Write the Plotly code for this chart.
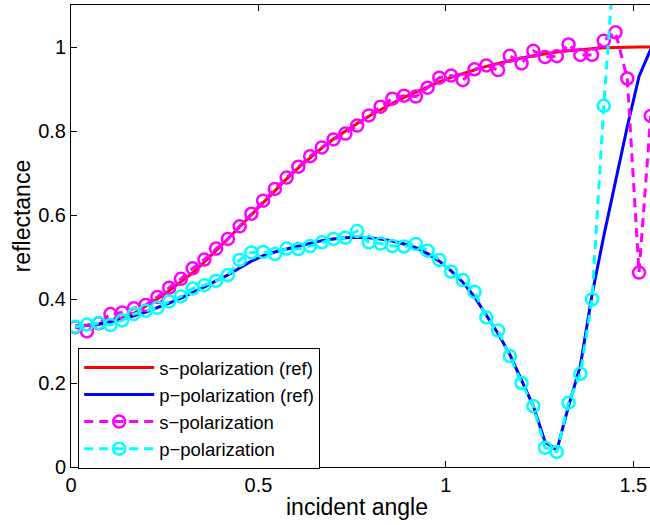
import plotly.graph_objects as go

# incident angle samples (rad)
angle = [0.0112, 0.0425, 0.0739, 0.1052, 0.1365, 0.1679, 0.1992, 0.2305, 0.2619, 0.2932,
         0.3245, 0.3559, 0.3872, 0.4185, 0.4499, 0.4812, 0.5125, 0.5439, 0.5752, 0.6065,
         0.6379, 0.6692, 0.7005, 0.7319, 0.7632, 0.7945, 0.8259, 0.8572, 0.8885, 0.9199,
         0.9512, 0.9825, 1.0139, 1.0452, 1.0765, 1.1079, 1.1392, 1.1705, 1.2019, 1.2332,
         1.2645, 1.2959, 1.3272, 1.3585, 1.3899, 1.4212, 1.4525, 1.4839, 1.5152, 1.5465]

s_ref = [0.335, 0.337, 0.341, 0.347, 0.355, 0.366, 0.383, 0.400, 0.420, 0.440,
         0.462, 0.488, 0.515, 0.543, 0.572, 0.601, 0.630, 0.658, 0.686, 0.712,
         0.737, 0.760, 0.781, 0.800, 0.818, 0.835, 0.851, 0.866, 0.880, 0.893,
         0.906, 0.917, 0.928, 0.937, 0.946, 0.954, 0.961, 0.968, 0.974, 0.979,
         0.984, 0.988, 0.991, 0.994, 0.996, 0.998, 0.999, 1.000, 1.000, 1.000]

p_ref = [0.335, 0.337, 0.340, 0.345, 0.352, 0.360, 0.369, 0.379, 0.390, 0.402,
         0.415, 0.429, 0.443, 0.457, 0.474, 0.490, 0.503, 0.512, 0.519, 0.526,
         0.533, 0.539, 0.543, 0.546, 0.547, 0.546, 0.543, 0.538, 0.531, 0.522,
         0.508, 0.490, 0.467, 0.440, 0.405, 0.362, 0.318, 0.268, 0.205, 0.145,
         0.060, 0.040, 0.145, 0.240, 0.410, 0.550, 0.680, 0.810, 0.930, 0.995]

s_pol = [0.333, 0.323, 0.342, 0.364, 0.368, 0.378, 0.386, 0.405, 0.427, 0.448,
         0.473, 0.494, 0.520, 0.543, 0.573, 0.603, 0.634, 0.662, 0.689, 0.715,
         0.740, 0.761, 0.780, 0.794, 0.813, 0.837, 0.858, 0.877, 0.884, 0.882,
         0.903, 0.927, 0.932, 0.921, 0.947, 0.956, 0.945, 0.979, 0.961, 0.991,
         0.976, 0.978, 1.006, 0.981, 0.981, 1.015, 1.035, 0.925, 0.463, 0.836]

p_pol = [0.334, 0.339, 0.343, 0.338, 0.349, 0.364, 0.372, 0.379, 0.394, 0.406,
         0.425, 0.433, 0.443, 0.457, 0.493, 0.511, 0.512, 0.507, 0.520, 0.519,
         0.526, 0.535, 0.543, 0.546, 0.562, 0.535, 0.532, 0.526, 0.525, 0.531,
         0.515, 0.493, 0.465, 0.445, 0.417, 0.356, 0.325, 0.264, 0.200, 0.145,
         0.046, 0.036, 0.153, 0.222, 0.399, 0.860, 1.250]

x_ticks = [0, 0.5, 1, 1.5]
x_tick_labels = ["0", "0.5", "1", "1.5"]
y_ticks = [0, 0.2, 0.4, 0.6, 0.8, 1]
y_tick_labels = ["0", "0.2", "0.4", "0.6", "0.8", "1"]

FONT = "Liberation Sans, Arial, Helvetica, sans-serif"

fig = go.Figure()
fig.add_trace(go.Scatter(x=angle, y=s_ref, mode="lines", name="s\u2212polarization (ref)",
                         line=dict(color="#ff0000", width=3)))
fig.add_trace(go.Scatter(x=angle, y=p_ref, mode="lines", name="p\u2212polarization (ref)",
                         line=dict(color="#0000ff", width=3)))
fig.add_trace(go.Scatter(x=angle, y=s_pol, mode="lines+markers", name="s\u2212polarization",
                         line=dict(color="#ff00ff", width=3, dash="9px,6px"),
                         marker=dict(symbol="circle-open", size=12, color="#ff00ff",
                                     line=dict(width=2.5, color="#ff00ff"))))
fig.add_trace(go.Scatter(x=angle[:len(p_pol)], y=p_pol, mode="lines+markers", name="p\u2212polarization",
                         line=dict(color="#00ffff", width=3, dash="9px,6px"),
                         marker=dict(symbol="circle-open", size=12, color="#00ffff",
                                     line=dict(width=2.5, color="#00ffff"))))

fig.update_layout(
    width=650, height=525,
    margin=dict(l=71, r=0, t=5, b=58),
    paper_bgcolor="white", plot_bgcolor="white",
    font=dict(family=FONT, size=20, color="black"),
    showlegend=True,
    legend=dict(x=0.0124, y=0.2576, xanchor="left", yanchor="top",
                bgcolor="white", bordercolor="black", borderwidth=1,
                font=dict(family=FONT, size=18.5, color="black"),
                itemwidth=70, tracegroupgap=0),
    xaxis=dict(range=[0, 1.5445], tickvals=x_ticks, ticktext=x_tick_labels,
               ticks="inside", ticklen=6, tickcolor="black", showgrid=False, zeroline=False,
               showline=True, linecolor="black", linewidth=1, mirror="ticks",
               automargin=False, tickfont=dict(size=20)),
    yaxis=dict(range=[0, 1.1], tickvals=y_ticks, ticktext=y_tick_labels,
               ticks="inside", ticklen=6, tickcolor="black", showgrid=False, zeroline=False,
               showline=True, linecolor="black", linewidth=1, mirror=False,
               automargin=False, tickfont=dict(size=20)),
    annotations=[
        dict(text="incident angle", xref="paper", yref="paper", x=0.494, y=-0.0866,
             xanchor="center", yanchor="middle", showarrow=False,
             font=dict(family=FONT, size=23, color="black")),
        dict(text="reflectance", xref="paper", yref="paper", x=-0.0843, y=0.543,
             xanchor="center", yanchor="middle", showarrow=False, textangle=-90,
             font=dict(family=FONT, size=23, color="black")),
    ],
)

fig.write_html("out.html", config={"displayModeBar": False},
               post_script="document.body.style.margin='0px';")
